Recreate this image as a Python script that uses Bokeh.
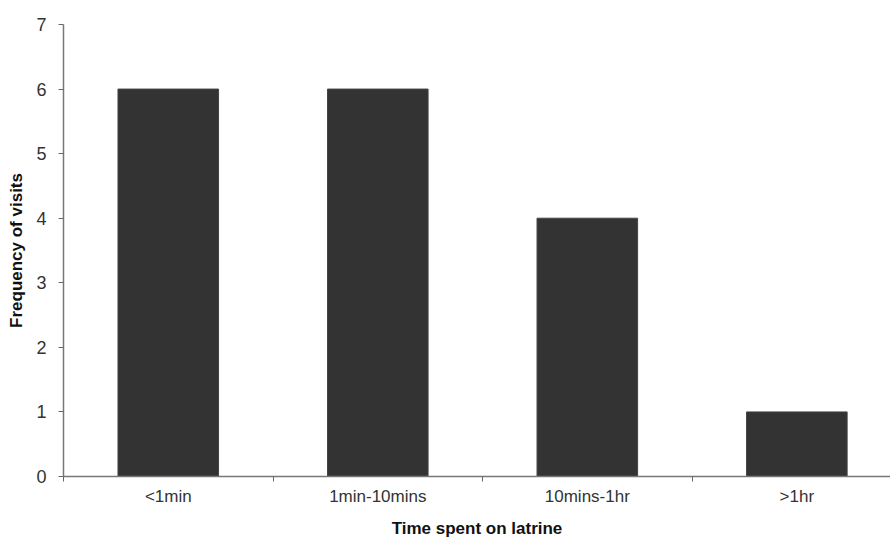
import numpy as np
from bokeh.plotting import figure
from bokeh.models import FixedTicker, Range1d
from bokeh.embed import file_html
from bokeh.resources import INLINE

categories = ["<1min", "1min-10mins", "10mins-1hr", ">1hr"]
visits = [6, 6, 4, 1]
y_ticks = [0, 1, 2, 3, 4, 5, 6, 7]

centers = [i + 0.5 for i in range(len(categories))]
boundaries = list(range(len(categories) + 1))

p = figure(width=890, height=540, output_backend="svg", toolbar_location=None,
           x_range=Range1d(0, 3.947), y_range=Range1d(0, 7),
           min_border_left=63, min_border_right=0, min_border_top=24, min_border_bottom=63)
p.outline_line_color = None
p.xgrid.visible = False
p.ygrid.visible = False
p.background_fill_color = "white"
p.border_fill_color = "white"

p.vbar(x=centers, top=visits, width=0.48, bottom=0,
       fill_color="#333333", line_color="#444444", line_width=1)

font = "Liberation Sans"
ax = p.xaxis[0]
ax.ticker = FixedTicker(ticks=centers, minor_ticks=boundaries)
ax.major_label_overrides = {c: lab for c, lab in zip(centers, categories)}
ax.major_tick_out = 0
ax.major_tick_in = 0
ax.minor_tick_out = 5
ax.minor_tick_in = 0
ax.minor_tick_line_color = "#666666"
ax.axis_line_color = "#777777"
ax.axis_line_width = 1.5
ax.major_label_text_font = font
ax.major_label_text_font_size = "17px"
ax.major_label_text_color = "#333333"
ax.major_label_standoff = 5
ax.axis_label = "Time spent on latrine"
ax.axis_label_text_font = font
ax.axis_label_text_font_size = "17px"
ax.axis_label_text_font_style = "bold"
ax.axis_label_text_color = "#111111"
ax.axis_label_standoff = 10

ay = p.yaxis[0]
ay.ticker = FixedTicker(ticks=y_ticks, minor_ticks=[])
ay.major_tick_out = 5
ay.major_tick_in = 0
ay.major_tick_line_color = "#666666"
ay.axis_line_color = "#777777"
ay.axis_line_width = 1.5
ay.major_label_text_font = font
ay.major_label_text_font_size = "18px"
ay.major_label_text_color = "#333333"
ay.major_label_standoff = 12
ay.axis_label = "Frequency of visits"
ay.axis_label_text_font = font
ay.axis_label_text_font_size = "17px"
ay.axis_label_text_font_style = "bold"
ay.axis_label_text_color = "#111111"
ay.axis_label_standoff = 7

open("out.html", "w").write(file_html(p, INLINE))
